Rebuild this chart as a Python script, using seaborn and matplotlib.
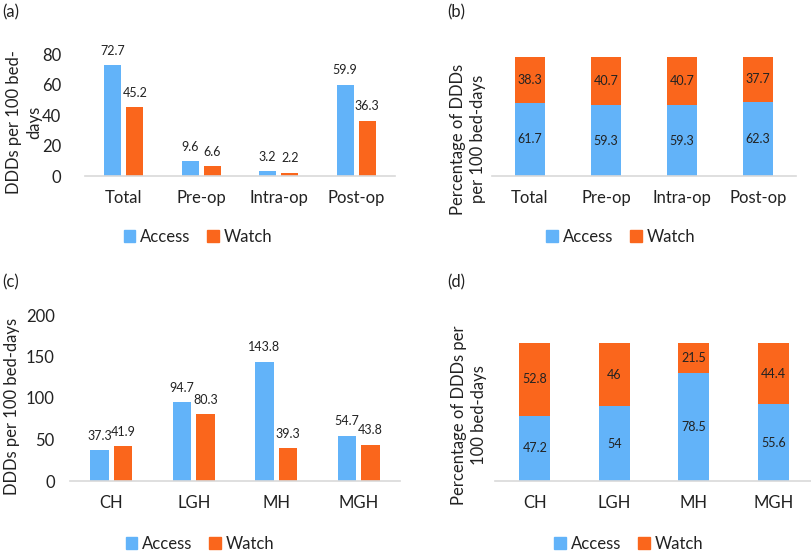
import numpy as np
import pandas as pd
import matplotlib
matplotlib.use("Agg")
import matplotlib.pyplot as plt
from matplotlib.patches import Patch
import seaborn as sns

# data
phases = ["Total", "Pre-op", "Intra-op", "Post-op"]
phase_access = [72.7, 9.6, 3.2, 59.9]
phase_watch = [45.2, 6.6, 2.2, 36.3]
phase_access_pct = [61.7, 59.3, 59.3, 62.3]
phase_watch_pct = [38.3, 40.7, 40.7, 37.7]

hospitals = ["CH", "LGH", "MH", "MGH"]
hosp_access = [37.3, 94.7, 143.8, 54.7]
hosp_watch = [41.9, 80.3, 39.3, 43.8]
hosp_access_pct = [47.2, 54, 78.5, 55.6]
hosp_watch_pct = [52.8, 46, 21.5, 44.4]

ACCESS = "#62B3F9"
WATCH = "#FA661C"
TXT = "#222222"
FS = 12

sns.set_style("white")
plt.rcParams["font.family"] = ["Lato", "DejaVu Sans"]

W, H = 812, 554
fig = plt.figure(figsize=(W / 100, H / 100), dpi=100)


def px_axes(l, t, r, b):
    return fig.add_axes([l / W, 1 - b / H, (r - l) / W, (b - t) / H])


def style(ax):
    for s in ["top", "right", "left"]:
        ax.spines[s].set_visible(False)
    ax.spines["bottom"].set_color("#D9D9D9")
    ax.spines["bottom"].set_linewidth(1.2)
    ax.tick_params(axis="x", length=0, pad=10, labelsize=FS, labelcolor=TXT)
    ax.tick_params(axis="y", length=0, labelsize=FS, labelcolor=TXT)
    ax.set_xlabel("")


def add_legend(ax, cx, cy):
    handles = [Patch(color=ACCESS), Patch(color=WATCH)]
    ax.legend(handles, ["Access", "Watch"], loc="center", bbox_to_anchor=(cx / W, 1 - cy / H),
              bbox_transform=fig.transFigure, ncol=2, frameon=False, fontsize=FS,
              handlelength=0.7, handleheight=0.7, handletextpad=0.3, columnspacing=1.0,
              labelcolor=TXT)


def grouped(ax, cats, access, watch, ymax, yticks, ypad):
    df = pd.DataFrame({"cat": cats * 2, "val": access + watch,
                       "series": ["Access"] * len(cats) + ["Watch"] * len(cats)})
    sns.barplot(data=df, x="cat", y="val", hue="series", palette=[ACCESS, WATCH],
                width=0.57, gap=0.23, saturation=1, linewidth=0, legend=False, ax=ax)
    for c in ax.containers:
        ax.bar_label(c, fmt="%g", padding=6, fontsize=9, color=TXT, clip_on=False)
    ax.set_ylim(0, ymax)
    ax.set_yticks(yticks)
    style(ax)
    ax.tick_params(axis="y", pad=ypad)
    ax.set_ylabel("")


def stacked(ax, cats, access, watch):
    tops = [a + w for a, w in zip(access, watch)]
    sns.barplot(x=cats, y=tops, color=WATCH, width=0.39, saturation=1, linewidth=0, ax=ax)
    sns.barplot(x=cats, y=access, color=ACCESS, width=0.39, saturation=1, linewidth=0, ax=ax)
    for i, (a, w) in enumerate(zip(access, watch)):
        ax.text(i, a / 2, f"{a:g}", ha="center", va="center", fontsize=9, color=TXT)
        ax.text(i, a + w / 2, f"{w:g}", ha="center", va="center", fontsize=9, color=TXT)
    ax.set_ylim(0, 100)
    ax.set_yticks([])
    style(ax)
    ax.set_ylabel("")


# (a)
ax_a = px_axes(85, 54, 395, 176)
grouped(ax_a, phases, phase_access, phase_watch, 80, [0, 20, 40, 60, 80], 17)
add_legend(ax_a, 198, 237)
fig.text(24 / W, 1 - 122 / H, "DDDs per 100 bed-\ndays", rotation=90, ha="center", va="center",
         fontsize=FS, color=TXT, linespacing=1.3)
fig.text(2 / W, 1 - 12 / H, "(a)", ha="left", va="center", fontsize=FS, color=TXT)

# (b)
ax_b = px_axes(492, 57, 796, 176)
stacked(ax_b, phases, phase_access_pct, phase_watch_pct)
add_legend(ax_b, 621, 237)
fig.text(468 / W, 1 - 139 / H, "Percentage of DDDs\nper 100 bed-days", rotation=90, ha="center",
         va="center", fontsize=FS, color=TXT, linespacing=1.3)
fig.text(447 / W, 1 - 12 / H, "(b)", ha="left", va="center", fontsize=FS, color=TXT)

# (c)
ax_c = px_axes(70, 315, 400, 481)
grouped(ax_c, hospitals, hosp_access, hosp_watch, 200, [0, 50, 100, 150, 200], 11)
add_legend(ax_c, 200, 544)
fig.text(12 / W, 1 - 406 / H, "DDDs per 100 bed-days", rotation=90, ha="center", va="center",
         fontsize=FS, color=TXT)
fig.text(2 / W, 1 - 282 / H, "(c)", ha="left", va="center", fontsize=FS, color=TXT)

# (d)
ax_d = px_axes(495, 343, 813, 481)
stacked(ax_d, hospitals, hosp_access_pct, hosp_watch_pct)
add_legend(ax_d, 629, 544)
fig.text(469 / W, 1 - 415 / H, "Percentage of DDDs per\n100 bed-days", rotation=90, ha="center",
         va="center", fontsize=FS, color=TXT, linespacing=1.3)
fig.text(447 / W, 1 - 282 / H, "(d)", ha="left", va="center", fontsize=FS, color=TXT)

fig.savefig("out.png", dpi=100)
plt.close(fig)
